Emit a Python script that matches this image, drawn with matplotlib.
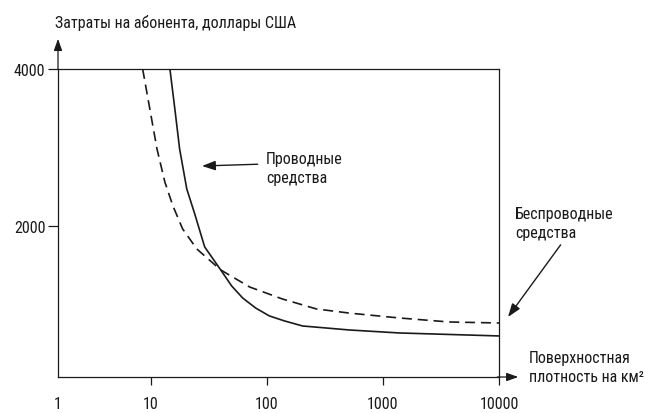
import matplotlib
matplotlib.use("Agg")
import matplotlib.pyplot as plt
from matplotlib import font_manager

# values
wired_x = [14.6, 16.1, 17.7, 20.4, 23.9, 29.1, 40.0, 49.7, 61.8, 80, 105, 142, 203, 514, 1384, 10000]
wired_y = [4000, 3491, 2981, 2472, 2153, 1733, 1440, 1236, 1083, 955, 854, 790, 726, 675, 637, 599]
wireless_x = [8.5, 9.8, 11.3, 13.2, 15.5, 18.8, 24.9, 40.0, 71, 136, 267, 514, 1384, 3724, 10000]
wireless_y = [4000, 3491, 2981, 2561, 2255, 1962, 1707, 1440, 1223, 1070, 943, 890, 828, 777, 764]

x_origin = 10 ** 0.2  # the picture puts "1" at the axis corner
x_ticks = [x_origin, 10, 100, 1000, 10000]
x_tick_labels = ["1", "10", "100", "1000", "10000"]
y_ticks = [2000, 4000]
y_tick_labels = ["2000", "4000"]

names = {f.name for f in font_manager.fontManager.ttflist}
fs = 10.4
for cand in ["Liberation Sans Narrow", "Roboto Condensed", "Open Sans Condensed"]:
    if cand in names:
        plt.rcParams["font.family"] = [cand, "DejaVu Sans"]
        fs = 11.5
        break
else:
    plt.rcParams["font.family"] = ["Liberation Sans", "DejaVu Sans"]

ink = "#1a1a1a"
head = "-|>,head_length=0.7,head_width=0.25"
fig = plt.figure(figsize=(6.45, 4.14), dpi=100)
ax = fig.add_axes([58 / 645, 36 / 414, 441 / 645, 308 / 414])

ax.plot(wired_x, wired_y, color=ink, lw=1.2)
ax.plot(wireless_x, wireless_y, color=ink, lw=1.2, linestyle=(0, (6, 3.5)))

ax.set_xscale("log")
ax.set_xlim(x_origin, 10000)
ax.set_ylim(76, 4000)
ax.minorticks_off()
ax.set_xticks(x_ticks)
ax.set_xticklabels(x_tick_labels)
ax.set_yticks(y_ticks)
ax.set_yticklabels(y_tick_labels)
ax.tick_params(axis="x", length=6, width=0.9, color=ink, labelsize=fs, pad=8, labelcolor=ink)
ax.tick_params(axis="y", length=7, width=0.9, color=ink, labelsize=fs, pad=2, labelcolor=ink)
ax.xaxis.get_major_ticks()[0].tick1line.set_visible(False)

for s in ax.spines.values():
    s.set_color(ink)
    s.set_linewidth(0.9)

# axis arrows
ax.annotate("", xy=(0, 1.107), xytext=(0, 0.99), xycoords="axes fraction",
            arrowprops=dict(arrowstyle=head, color=ink, lw=0.9))
ax.annotate("", xy=(1.05, 0), xytext=(0.99, 0), xycoords="axes fraction",
            arrowprops=dict(arrowstyle=head, color=ink, lw=0.9))

fig.text(55 / 645, 1 - 23 / 414, "Затраты на абонента, доллары США", fontsize=fs,
         color=ink, va="center", ha="left")
fig.text(529 / 645, 1 - 368 / 414, "Поверхностная\nплотность на км²", fontsize=fs,
         color=ink, va="center", ha="left", linespacing=1.3)

ax.annotate("Проводные\nсредства", xy=(202 / 645, 1 - 167 / 414), xytext=(266 / 645, 1 - 169 / 414),
            xycoords="figure fraction", textcoords="figure fraction", fontsize=fs, color=ink,
            va="center", ha="left", linespacing=1.3,
            arrowprops=dict(arrowstyle=head, color=ink, lw=1.0, shrinkA=4, shrinkB=0,
                            relpos=(0.0, 0.62)))
ax.annotate("Беспроводные\nсредства", xy=(508 / 645, 1 - 318 / 414), xytext=(515 / 645, 1 - 224 / 414),
            xycoords="figure fraction", textcoords="figure fraction", fontsize=fs, color=ink,
            va="center", ha="left", linespacing=1.3, annotation_clip=False,
            arrowprops=dict(arrowstyle=head, color=ink, lw=1.0, shrinkA=2, shrinkB=0,
                            relpos=(0.5, 0.0)))

fig.savefig("out.png", dpi=100)
